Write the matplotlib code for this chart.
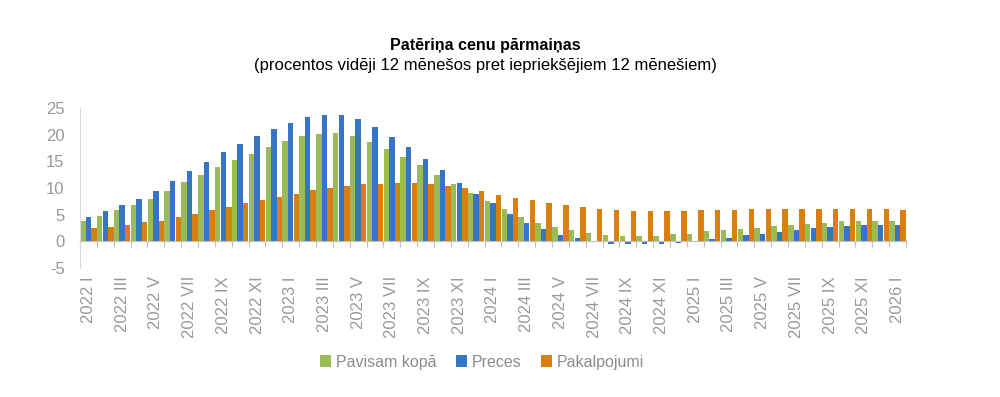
import numpy as np
import matplotlib
matplotlib.use("Agg")
import matplotlib.pyplot as plt

plt.rcParams['font.family'] = ['Liberation Sans', 'DejaVu Sans']
plt.rcParams['axes.unicode_minus'] = False

# monthly, 2022 I .. 2026 I
years = [2022, 2023, 2024, 2025, 2026]
romans = ['I', 'II', 'III', 'IV', 'V', 'VI', 'VII', 'VIII', 'IX', 'X', 'XI', 'XII']

total = [3.9, 4.75, 5.8, 6.9, 7.9, 9.4, 11.1, 12.5, 13.9, 15.2, 16.4, 17.7,
         18.9, 19.75, 20.2, 20.4, 19.75, 18.7, 17.25, 15.8, 14.4, 12.5, 10.8, 9.1,
         7.5, 6.0, 4.6, 3.5, 2.7, 2.1, 1.6, 1.25, 1.0, 1.0, 1.0, 1.4,
         1.4, 1.9, 2.1, 2.3, 2.5, 2.9, 3.1, 3.3, 3.5, 3.75, 3.75, 3.75,
         3.75]
goods = [4.6, 5.6, 6.9, 7.9, 9.4, 11.25, 13.1, 14.9, 16.8, 18.3, 19.75, 21.0,
         22.25, 23.3, 23.7, 23.7, 22.9, 21.4, 19.6, 17.7, 15.4, 13.3, 11.0, 8.9,
         7.1, 5.2, 3.5, 2.25, 1.25, 0.6, 0.0, -0.5, -0.5, -0.5, -0.5, -0.35,
         0.0, 0.4, 0.6, 1.1, 1.4, 1.7, 2.1, 2.5, 2.7, 2.9, 3.1, 3.1,
         3.1]
services = [2.5, 2.7, 3.1, 3.6, 3.9, 4.6, 5.2, 5.8, 6.4, 7.1, 7.7, 8.3,
            8.9, 9.6, 10.0, 10.4, 10.8, 10.8, 11.0, 11.0, 10.8, 10.4, 10.0, 9.4,
            8.75, 8.1, 7.7, 7.25, 6.9, 6.4, 6.0, 5.8, 5.6, 5.6, 5.6, 5.6,
            5.8, 5.8, 5.8, 6.0, 6.0, 6.0, 6.0, 6.0, 6.0, 6.0, 6.0, 6.0,
            5.8]

labels = [f"{y} {r}" for y in years for r in romans][:len(total)]


def make_plot():
    fig = plt.figure(figsize=(10, 3.97), dpi=100)
    ax = fig.add_axes([0.08, 0.325, 0.826, 0.403])

    x = np.arange(len(total))
    w = 1 / 3
    ax.bar(x - w, total, w * 0.96, color='#9BBB59', label='Pavisam kopā')
    ax.bar(x, goods, w * 0.96, color='#3674C6', label='Preces')
    ax.bar(x + w, services, w * 0.96, color='#DB7E10', label='Pakalpojumi')

    ax.set_xlim(-0.5, len(total) - 0.5)
    ax.set_ylim(-5, 25)
    ax.set_yticks(range(-5, 26, 5))

    for s in ['top', 'right']:
        ax.spines[s].set_visible(False)
    ax.spines['left'].set_color('#D9D9D9')
    ax.spines['bottom'].set_color('#BFBFBF')
    ax.spines['bottom'].set_position(('data', 0))

    # boundary ticks on the zero line, labels on every second month
    ax.set_xticks(np.arange(-0.5, len(total), 1))
    ax.set_xticklabels([])
    ax.tick_params(axis='x', which='major', length=4, color='#BFBFBF')
    ax.set_xticks(x[::2], minor=True)
    ax.set_xticklabels(labels[::2], minor=True, rotation=90, va='top')
    ax.tick_params(axis='x', which='minor', length=0, pad=25,
                   labelsize=12, labelcolor='#999999')
    ax.tick_params(axis='y', length=0, labelsize=12, labelcolor='#999999', pad=11)

    fig.text(0.485, 0.885, 'Patēriņa cenu pārmaiņas', ha='center', va='center',
             fontsize=11.5, fontweight='bold')
    fig.text(0.485, 0.835, '(procentos vidēji 12 mēnešos pret iepriekšējiem 12 mēnešiem)',
             ha='center', va='center', fontsize=12)

    fig.legend(loc='center', bbox_to_anchor=(0.482, 0.088), ncol=3, frameon=False,
               fontsize=11.5, labelcolor='#8C8C8C', handlelength=0.7, handleheight=0.7,
               handletextpad=0.3, columnspacing=1.2)

    fig.savefig('out.png', dpi=100)


if __name__ == "__main__":
    make_plot()
